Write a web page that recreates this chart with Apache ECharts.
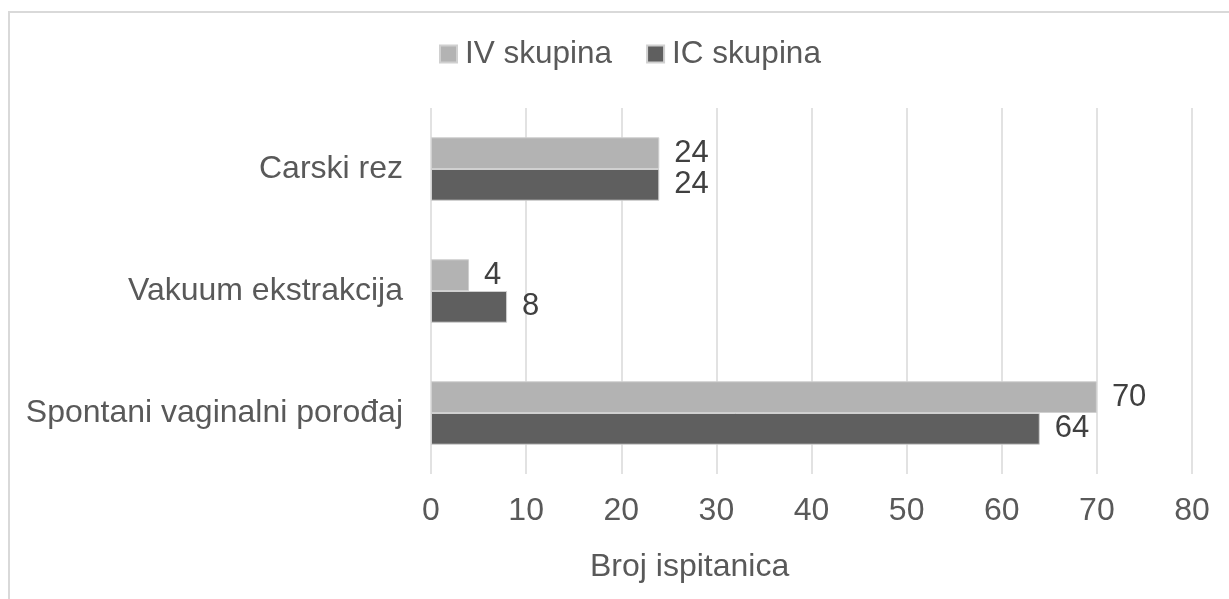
<!DOCTYPE html>
<html>
<head>
<meta charset="utf-8">
<script src="https://cdn.jsdelivr.net/npm/echarts@6/dist/echarts.min.js"></script>
<style>
  html, body { margin: 0; padding: 0; background: #fff; }
  #frame {
    position: absolute; left: 8px; top: 11px; width: 1300px; height: 700px;
    border-left: 2px solid #d9d9d9; border-top: 2px solid #d9d9d9;
  }
  #chart { position: absolute; left: 0; top: 0; width: 1229px; height: 599px; }
</style>
</head>
<body>
<div id="frame"></div>
<div id="chart"></div>
<script>
// Chart data
var categories = ['Carski rez', 'Vakuum ekstrakcija', 'Spontani vaginalni porođaj'];
var seriesNames = ['IV skupina', 'IC skupina'];
var ivValues = [24, 4, 70];
var icValues = [24, 8, 64];
var axisTitle = 'Broj ispitanica';

var chart = echarts.init(document.getElementById('chart'));
var fontFamily = '"Liberation Sans", Arial, sans-serif';

var labelStyle = {
    show: true,
    position: 'right',
    distance: 15,
    color: '#404040',
    fontSize: 31,
    fontFamily: fontFamily
};

var option = {
    backgroundColor: 'transparent',
    animation: false,
    legend: {
        data: seriesNames,
        top: 33,
        left: 434,
        itemWidth: 17,
        itemHeight: 17,
        itemGap: 34,
        icon: 'rect',
        textStyle: { color: '#595959', fontSize: 31.5, fontFamily: fontFamily, padding: [0, 0, 0, 3] }
    },
    grid: { left: 431, right: 37, top: 108, bottom: 125 },
    xAxis: {
        type: 'value',
        min: 0,
        max: 80,
        interval: 10,
        axisLine: { show: false },
        axisTick: { show: false },
        axisLabel: { color: '#595959', fontSize: 32, fontFamily: fontFamily, margin: 21 },
        splitLine: { lineStyle: { color: '#d9d9d9', width: 1.5 } }
    },
    yAxis: {
        type: 'category',
        inverse: true,
        data: categories,
        axisLine: { show: false },
        axisTick: { show: false },
        axisLabel: { color: '#595959', fontSize: 32, fontFamily: fontFamily, margin: 28 }
    },
    graphic: [{
        type: 'text',
        x: 590,
        y: 567,
        style: { text: axisTitle, fill: '#595959', font: '32px ' + fontFamily, verticalAlign: 'middle' }
    }],
    series: [
        {
            name: seriesNames[0],
            type: 'bar',
            data: ivValues,
            barGap: '0%',
            barCategoryGap: '48%',
            itemStyle: { color: '#b3b3b3', borderColor: '#d0d0d0', borderWidth: 1 },
            label: labelStyle
        },
        {
            name: seriesNames[1],
            type: 'bar',
            data: icValues,
            barGap: '0%',
            barCategoryGap: '48%',
            itemStyle: { color: '#5f5f5f', borderColor: '#d0d0d0', borderWidth: 1 },
            label: labelStyle
        }
    ]
};

chart.setOption(option);
</script>
</body>
</html>
